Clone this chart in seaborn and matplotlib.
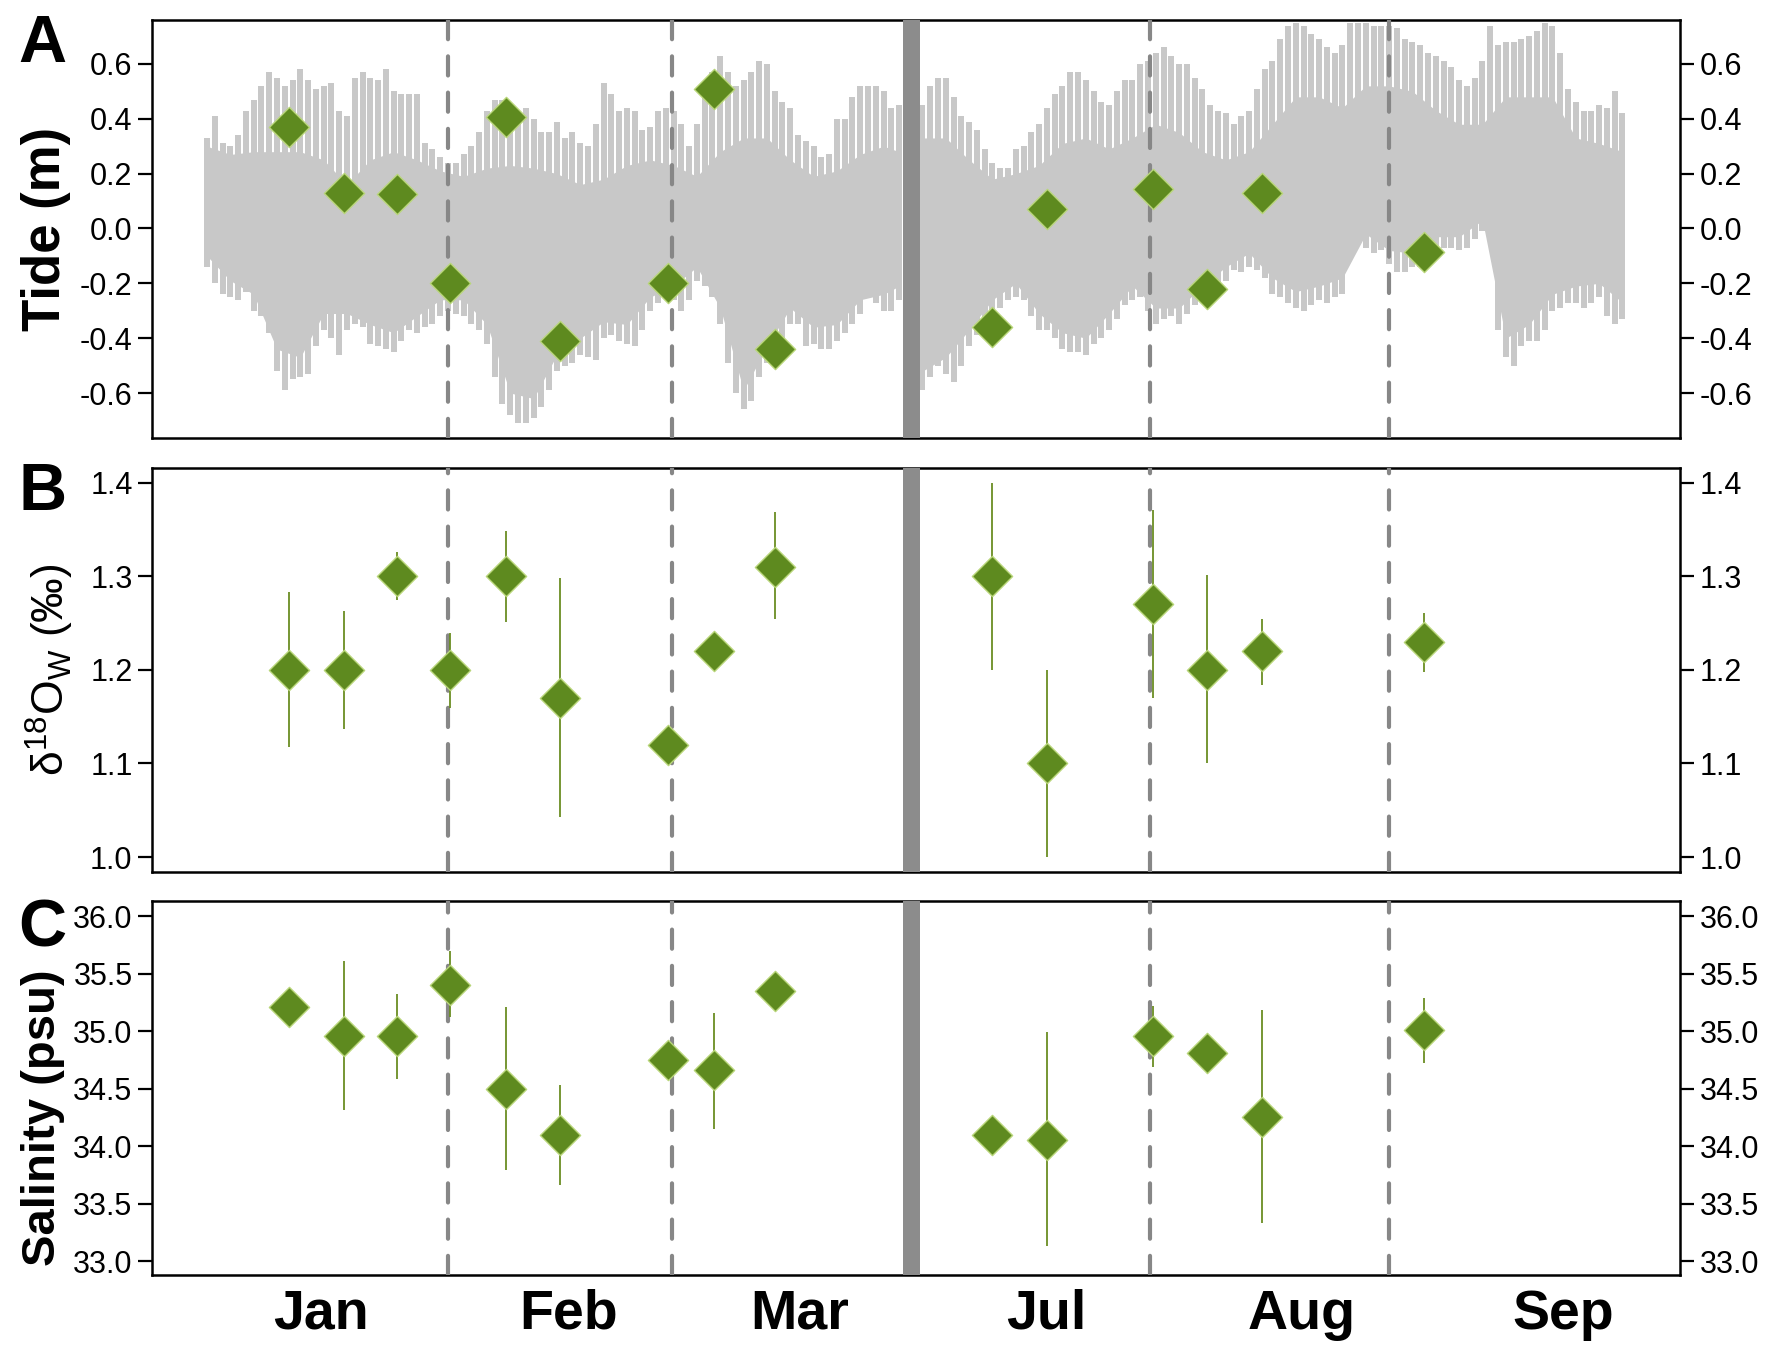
import matplotlib
matplotlib.use("Agg")
import matplotlib.pyplot as plt
from matplotlib.ticker import FormatStrFormatter
import seaborn as sns

# --- Data ---
# x axis is a "plot day": Jan 1 = 0, Apr-Jun squeezed out (gray bar marks the break)
month_names = ["Jan", "Feb", "Mar", "Jul", "Aug", "Sep"]
month_label_day = [14.7, 46.5, 76.2, 107.9, 140.8, 174.4]
month_break_day = [31.0, 59.8, 121.3, 152.0]
gap_day = (89.5, 91.7)

# sampling dates
sample_day = [10.6, 17.6, 24.5, 31.3, 38.4, 45.4, 59.3, 65.2, 73.1,
              101.0, 108.0, 121.6, 128.6, 135.7, 156.5]
tide_at_sample = [0.37, 0.13, 0.125, -0.20, 0.405, -0.41, -0.20, 0.51, -0.44,
                  -0.36, 0.07, 0.145, -0.22, 0.13, -0.087]

d18o = [1.20, 1.20, 1.30, 1.20, 1.30, 1.17, 1.12, 1.22, 1.31,
        1.30, 1.10, 1.27, 1.20, 1.22, 1.23]
d18o_lo = [1.118, 1.137, 1.275, 1.159, 1.251, 1.043, 1.12, 1.22, 1.254,
           1.20, 1.00, 1.17, 1.10, 1.184, 1.198]
d18o_hi = [1.283, 1.263, 1.326, 1.240, 1.349, 1.298, 1.12, 1.22, 1.369,
           1.40, 1.20, 1.371, 1.302, 1.255, 1.261]

salinity = [35.21, 34.955, 34.955, 35.40, 34.50, 34.10, 34.75, 34.66, 35.35,
            34.10, 34.05, 34.96, 34.81, 34.25, 35.01]
salinity_lo = [35.21, 34.31, 34.58, 35.12, 33.79, 33.66, 34.75, 34.15, 35.35,
               34.10, 33.13, 34.69, 34.81, 33.33, 34.72]
salinity_hi = [35.21, 35.61, 35.32, 35.70, 35.21, 34.53, 34.75, 35.16, 35.35,
               34.10, 34.99, 35.22, 34.81, 35.18, 35.29]

# tide record: daily high / low peaks (m)
tide_day_1 = list(range(0, 90))
tide_hi_1 = [0.33, 0.41, 0.31, 0.30, 0.34, 0.43, 0.47, 0.52, 0.57, 0.55,
             0.52, 0.54, 0.58, 0.54, 0.51, 0.52, 0.53, 0.43, 0.41, 0.55,
             0.57, 0.55, 0.54, 0.58, 0.50, 0.49, 0.49, 0.49, 0.31, 0.29,
             0.26, 0.24, 0.24, 0.27, 0.30, 0.35, 0.43, 0.47, 0.47, 0.44,
             0.43, 0.44, 0.40, 0.35, 0.35, 0.39, 0.33, 0.35, 0.31, 0.30,
             0.38, 0.53, 0.49, 0.43, 0.44, 0.43, 0.36, 0.37, 0.43, 0.44,
             0.43, 0.38, 0.30, 0.38, 0.49, 0.57, 0.63, 0.57, 0.52, 0.54,
             0.57, 0.61, 0.60, 0.50, 0.46, 0.44, 0.34, 0.32, 0.30, 0.26,
             0.27, 0.40, 0.40, 0.48, 0.52, 0.52, 0.52, 0.50, 0.44, 0.45]
tide_lo_1 = [-0.14, -0.20, -0.24, -0.25, -0.26, -0.23, -0.30, -0.32, -0.38, -0.52,
             -0.59, -0.55, -0.54, -0.53, -0.43, -0.37, -0.40, -0.46, -0.37, -0.35,
             -0.36, -0.42, -0.43, -0.44, -0.45, -0.41, -0.37, -0.38, -0.36, -0.35,
             -0.32, -0.30, -0.31, -0.32, -0.35, -0.37, -0.42, -0.54, -0.64, -0.68,
             -0.71, -0.71, -0.69, -0.65, -0.59, -0.52, -0.50, -0.49, -0.46, -0.47,
             -0.48, -0.40, -0.39, -0.41, -0.42, -0.43, -0.37, -0.30, -0.27, -0.22,
             -0.26, -0.30, -0.26, -0.19, -0.21, -0.25, -0.35, -0.49, -0.60, -0.66,
             -0.63, -0.54, -0.49, -0.48, -0.43, -0.35, -0.35, -0.43, -0.42, -0.44,
             -0.44, -0.41, -0.38, -0.35, -0.31, -0.25, -0.27, -0.30, -0.30, -0.26]

tide_day_2 = list(range(92, 183))
tide_hi_2 = [0.45, 0.52, 0.55, 0.55, 0.48, 0.41, 0.39, 0.36, 0.29, 0.24,
             0.22, 0.22, 0.29, 0.30, 0.35, 0.38, 0.44, 0.49, 0.52, 0.57,
             0.57, 0.54, 0.50, 0.46, 0.45, 0.50, 0.54, 0.54, 0.60, 0.61,
             0.64, 0.66, 0.63, 0.60, 0.60, 0.55, 0.51, 0.45, 0.43, 0.42,
             0.38, 0.41, 0.43, 0.51, 0.58, 0.61, 0.69, 0.74, 0.75, 0.74,
             0.71, 0.69, 0.66, 0.64, 0.67, 0.75, 0.75, 0.75, 0.74, 0.74,
             0.74, 0.73, 0.69, 0.68, 0.67, 0.64, 0.63, 0.61, 0.59, 0.54,
             0.52, 0.55, 0.61, 0.74, 0.67, 0.68, 0.68, 0.69, 0.70, 0.72,
             0.75, 0.74, 0.64, 0.51, 0.46, 0.43, 0.43, 0.45, 0.44, 0.50, 0.42]
tide_lo_2 = [-0.59, -0.54, -0.50, -0.53, -0.56, -0.50, -0.43, -0.39, -0.35, -0.31,
             -0.29, -0.26, -0.25, -0.26, -0.32, -0.37, -0.37, -0.40, -0.44, -0.45,
             -0.45, -0.46, -0.42, -0.40, -0.37, -0.33, -0.28, -0.26, -0.25, -0.30,
             -0.35, -0.33, -0.32, -0.35, -0.31, -0.28, -0.26, -0.25, -0.22, -0.19,
             -0.15, -0.16, -0.14, -0.15, -0.18, -0.24, -0.25, -0.27, -0.29, -0.30,
             -0.28, -0.26, -0.27, -0.25, -0.24, -0.08, -0.04, -0.07, -0.09, -0.08,
             -0.13, -0.16, -0.16, -0.14, -0.14, -0.13, -0.08, -0.07, -0.07, -0.08,
             -0.07, -0.04, -0.01, -0.01, -0.37, -0.47, -0.50, -0.43, -0.41, -0.41,
             -0.37, -0.30, -0.29, -0.27, -0.27, -0.29, -0.27, -0.25, -0.32, -0.35, -0.33]

# solid inner part of the tide band (every 3 days)
core_day_1 = list(range(0, 88, 3)) + [89]
core_hi_1 = [0.30, 0.27, 0.28, 0.28, 0.28, 0.25, 0.16, 0.25, 0.28, 0.25, 0.21,
             0.19, 0.22, 0.23, 0.22, 0.20, 0.16, 0.18, 0.23, 0.25, 0.23,
             0.19, 0.28, 0.33, 0.33, 0.25, 0.19, 0.21, 0.27, 0.30, 0.28]
core_lo_1 = [-0.10, -0.19, -0.24, -0.44, -0.47, -0.31, -0.31, -0.35, -0.38, -0.32, -0.26,
             -0.26, -0.35, -0.60, -0.62, -0.46, -0.40, -0.34, -0.35, -0.25, -0.21,
             -0.14, -0.29, -0.59, -0.43, -0.29, -0.36, -0.35, -0.26, -0.24, -0.21]
core_day_2 = list(range(92, 183, 3))
core_hi_2 = [0.33, 0.33, 0.25, 0.18, 0.20, 0.23, 0.31, 0.33, 0.29, 0.33, 0.38,
             0.35, 0.28, 0.25, 0.28, 0.38, 0.48, 0.48, 0.44, 0.52, 0.52,
             0.50, 0.43, 0.38, 0.38, 0.48, 0.48, 0.48, 0.33, 0.31, 0.28]
core_lo_2 = [-0.52, -0.47, -0.37, -0.26, -0.20, -0.31, -0.38, -0.40, -0.31, -0.21, -0.29,
             -0.29, -0.21, -0.14, -0.09, -0.18, -0.23, -0.21, -0.18, -0.02, -0.08,
             -0.09, -0.03, -0.03, 0.03, -0.40, -0.35, -0.24, -0.21, -0.20, -0.27]

# --- Style ---
sns.set_theme(style="ticks")
plt.rcParams["font.family"] = ["Liberation Sans", "DejaVu Sans"]
plt.rcParams["mathtext.fontset"] = "custom"
plt.rcParams["mathtext.rm"] = "Liberation Sans"
plt.rcParams["mathtext.it"] = "Liberation Sans:italic"
plt.rcParams["axes.unicode_minus"] = False

GREEN = "#5e8a1f"
EDGE = "#b9d67a"
BAR = "#6b8e23"
TIDE = "#c8c8c8"
DASH = "#878787"
GAP = "#8c8c8c"

fig = plt.figure(figsize=(17.72, 13.54), dpi=100)
left, width = 0.0858, 0.8623
axA = fig.add_axes([left, 0.6765, width, 0.3087])
axB = fig.add_axes([left, 0.3560, width, 0.2984], sharex=axA)
axC = fig.add_axes([left, 0.0583, width, 0.2762], sharex=axA)

# --- Panel A: tide ---
for cd, chi, clo, td, thi, tlo in [
    (core_day_1, core_hi_1, core_lo_1, tide_day_1, tide_hi_1, tide_lo_1),
    (core_day_2, core_hi_2, core_lo_2, tide_day_2, tide_hi_2, tide_lo_2),
]:
    axA.fill_between(cd, clo, chi, color=TIDE, lw=0, zorder=1)
    axA.vlines(td, tlo, thi, color=TIDE, lw=4.3, zorder=1)

sns.scatterplot(x=sample_day, y=tide_at_sample, ax=axA, marker="D", s=420,
                color=GREEN, edgecolor=EDGE, linewidth=1.0, zorder=6)

# --- Panel B: d18O ---
axB.vlines(sample_day, d18o_lo, d18o_hi, color=BAR, lw=1.3, zorder=5)
sns.scatterplot(x=sample_day, y=d18o, ax=axB, marker="D", s=420,
                color=GREEN, edgecolor=EDGE, linewidth=1.0, zorder=6)

# --- Panel C: salinity ---
axC.vlines(sample_day, salinity_lo, salinity_hi, color=BAR, lw=1.3, zorder=5)
sns.scatterplot(x=sample_day, y=salinity, ax=axC, marker="D", s=420,
                color=GREEN, edgecolor=EDGE, linewidth=1.0, zorder=6)

# --- shared decoration ---
limits = {axA: (-0.764, 0.76), axB: (0.984, 1.416), axC: (32.878, 36.13)}
ticks = {axA: [-0.6, -0.4, -0.2, 0.0, 0.2, 0.4, 0.6],
         axB: [1.0, 1.1, 1.2, 1.3, 1.4],
         axC: [33.0, 33.5, 34.0, 34.5, 35.0, 35.5, 36.0]}

for ax in (axA, axB, axC):
    for d in month_break_day:
        ax.axvline(d, color=DASH, lw=3.0, linestyle=(0, (4.6, 4.1)),
                   dash_capstyle="round", zorder=3)
    ax.axvspan(*gap_day, color=GAP, lw=0, zorder=4)
    ax.set_ylim(*limits[ax])
    ax.set_yticks(ticks[ax])
    ax.yaxis.set_major_formatter(FormatStrFormatter("%.1f"))
    ax.tick_params(axis="y", which="both", direction="out", left=True, right=True,
                   labelleft=True, labelright=True, length=10, width=1.6,
                   labelsize=22, pad=4, color="black", labelcolor="black")
    for s in ax.spines.values():
        s.set_visible(True)
        s.set_linewidth(1.8)
        s.set_color("black")
    ax.set_xlabel("")
    ax.set_ylabel("")
    ax.set_facecolor("white")
    ax.grid(False)

axA.set_xlim(-7.06, 189.4)
axC.set_xticks(month_label_day, month_names)
for ax in (axA, axB):
    ax.tick_params(axis="x", bottom=False, top=False, labelbottom=False)
axC.tick_params(axis="x", bottom=False, top=False, length=0, pad=10,
                labelsize=40, labelcolor="black")
for lab in axC.get_xticklabels():
    lab.set_fontweight("bold")

# axis titles and panel letters
fig.text(0.026, 0.831, "Tide (m)", rotation=90, fontsize=38,
         fontweight="bold", ha="center", va="center", color="black")
fig.text(0.028, 0.505, "δ$^{18}$O$_\\mathrm{W}$ (‰)", rotation=90, fontsize=32,
         ha="center", va="center", color="black")
fig.text(0.024, 0.1745, "Salinity (psu)", rotation=90, fontsize=34,
         fontweight="bold", ha="center", va="center", color="black")

for letter, yb in [("A", 0.9542), ("B", 0.6233), ("C", 0.3010)]:
    fig.text(0.0105, yb, letter, fontsize=48, fontweight="bold",
             ha="left", va="baseline", color="black")

fig.savefig("out.png", dpi=100, facecolor="white")
